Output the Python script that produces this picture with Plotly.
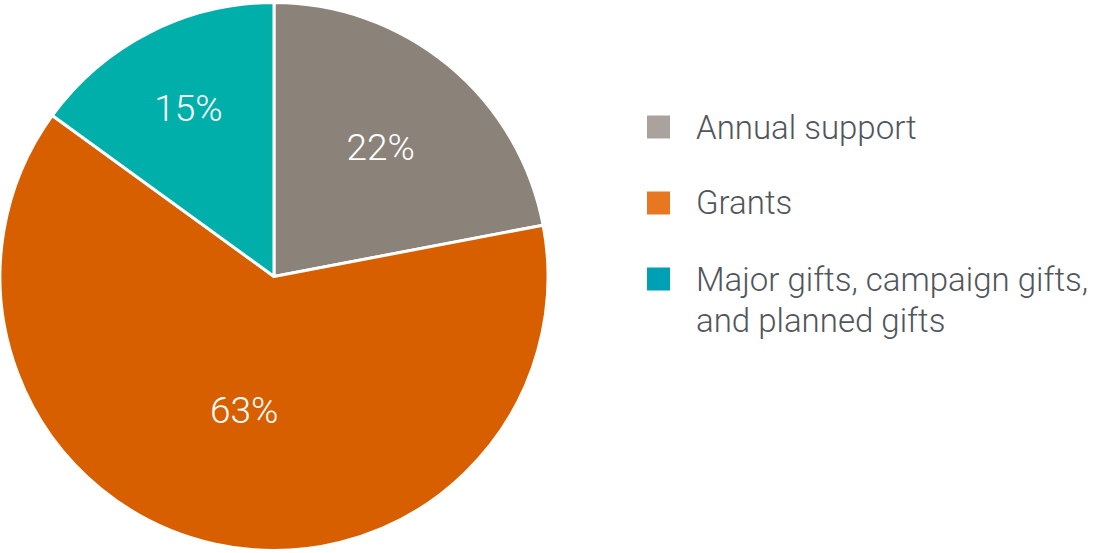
import plotly.graph_objects as go

categories = ["Annual support", "Grants", "Major gifts, campaign gifts,<br>and planned gifts"]
values = [22, 63, 15]
slice_colors = ["#8b8279", "#d75f00", "#00aeaa"]
legend_colors = ["#aaa39d", "#e87722", "#00a0b4"]

W, H = 1110, 553
FONT = "Roboto"
TEXT_COLOR = "#51555c"

fig = go.Figure()
fig.add_trace(go.Pie(
    labels=categories,
    values=values,
    sort=False,
    direction="clockwise",
    rotation=0,
    marker=dict(colors=slice_colors, line=dict(color="white", width=3)),
    texttemplate="%{percent:.0%}",
    textposition="inside",
    insidetextorientation="horizontal",
    textfont=dict(family=FONT, size=37, color="white", weight=300),
    domain=dict(x=[0, 548 / W], y=[0, 1]),
    showlegend=False,
    hoverinfo="label+percent",
))

# custom legend (swatches + labels)
legend_y = [127, 203, 279]
line_gap = 41
sw = 23
for cat, col, yc in zip(categories, legend_colors, legend_y):
    fig.add_shape(type="rect", xref="paper", yref="paper",
                  x0=647 / W, x1=(647 + sw) / W,
                  y0=1 - (yc + sw / 2) / H, y1=1 - (yc - sw / 2) / H,
                  fillcolor=col, line=dict(width=0))
    for i, line in enumerate(cat.split("<br>")):
        fig.add_annotation(text=line, xref="paper", yref="paper",
                           x=694 / W, y=1 - (yc + i * line_gap) / H,
                           xanchor="left", yanchor="middle", align="left",
                           showarrow=False,
                           font=dict(family=FONT, size=33, color=TEXT_COLOR, weight=300))

fig.update_layout(width=W, height=H, margin=dict(l=0, r=0, t=0, b=0),
                  paper_bgcolor="white", plot_bgcolor="white")
fig.write_html("out.html", config={"displayModeBar": False},
               post_script="document.body.style.margin='0';")
